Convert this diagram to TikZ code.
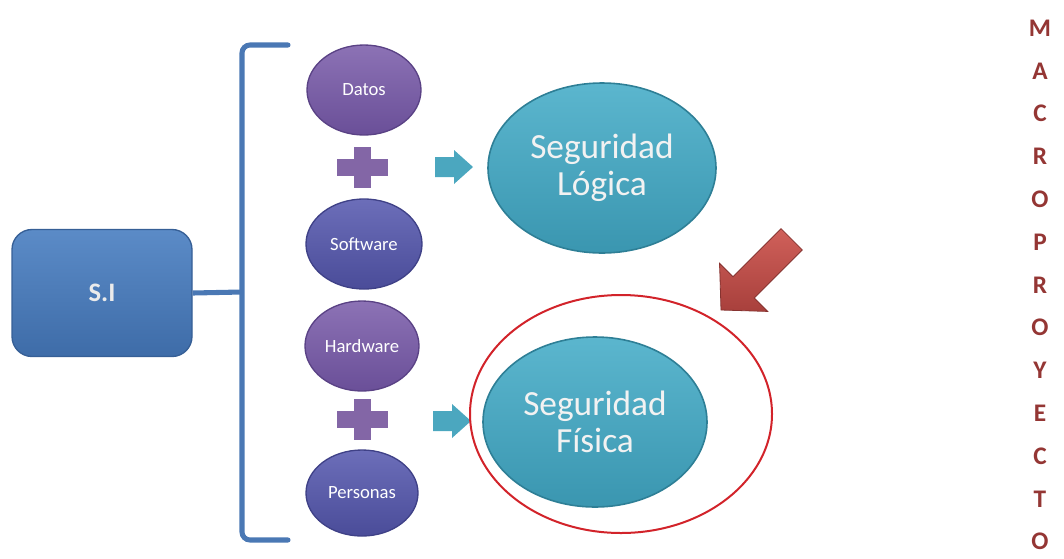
\documentclass[tikz,border=0pt]{standalone}
\usepackage{fontspec}
\setmainfont{Carlito}
\usetikzlibrary{shapes.geometric}

\definecolor{boxtop}{HTML}{5B8BC7}
\definecolor{boxbot}{HTML}{3E6CA8}
\definecolor{boxrim}{HTML}{365F96}
\definecolor{bracecol}{HTML}{4A78B4}
\definecolor{violtop}{HTML}{8C72B5}
\definecolor{violbot}{HTML}{6A4F98}
\definecolor{violrim}{HTML}{5A4285}
\definecolor{indtop}{HTML}{6C6EB9}
\definecolor{indbot}{HTML}{4A4C99}
\definecolor{indrim}{HTML}{3F4187}
\definecolor{tealtop}{HTML}{5BB6CE}
\definecolor{tealbot}{HTML}{3A96B0}
\definecolor{tealrim}{HTML}{2E7F96}
\definecolor{plusfill}{HTML}{8366A6}
\definecolor{arrowteal}{HTML}{4BA7BF}
\definecolor{ringred}{HTML}{D2232A}
\definecolor{arrtop}{HTML}{D0605A}
\definecolor{arrbot}{HTML}{A8403C}
\definecolor{letterred}{HTML}{943634}

\tikzset{
  sibox/.style={rectangle, rounded corners=15pt, draw=boxrim, line width=1pt,
    top color=boxtop, bottom color=boxbot, text=white!92!black,
    font=\bfseries\fontsize{20}{22}\selectfont},
  violet/.style={ellipse, inner sep=0pt, draw=violrim, line width=1pt,
    top color=violtop, bottom color=violbot, text=white,
    font=\fontsize{14}{16}\selectfont},
  indigo/.style={ellipse, inner sep=0pt, draw=indrim, line width=1pt,
    top color=indtop, bottom color=indbot, text=white,
    font=\fontsize{14}{16}\selectfont},
  seguro/.style={ellipse, inner sep=0pt, draw=tealrim, line width=1.2pt,
    top color=tealtop, bottom color=tealbot, text=white!95!black, align=center,
    font=\fontsize{26.5}{27.5}\selectfont},
  ring/.style={ellipse, inner sep=0pt, draw=ringred, line width=1.5pt},
  vletter/.style={text=letterred, font=\bfseries\fontsize{19}{21}\selectfont},
  bracepath/.style={draw=bracecol, line width=3.8pt, rounded corners=6pt},
}

\begin{document}
\begin{tikzpicture}[x=0.75pt,y=-0.75pt]
\useasboundingbox (0,0) rectangle (1064,558);

% main system box
\node[sibox, minimum width={180*0.75pt}, minimum height={127*0.75pt}] (si) at (102,293) {S.I};

% brace grouping the four components
\coordinate (btop) at (288,45);
\coordinate (bbot) at (288,540);
\coordinate (bmid) at (242,292);
\draw[bracepath, line cap=round] (btop) -- (242,45) -- (242,540) -- (bbot);
\draw[draw=bracecol, line width=3.8pt] (si.east) -- (bmid);

% components
\node[violet, minimum width={114*0.75pt}, minimum height={90*0.75pt}] (datos) at (364,90) {Datos};
\node[indigo, minimum width={116*0.75pt}, minimum height={90*0.75pt}] (software) at (364,244) {Software};
\node[violet, minimum width={114*0.75pt}, minimum height={90*0.75pt}] (hardware) at (362,346) {Hardware};
\node[indigo, minimum width={112*0.75pt}, minimum height={86*0.75pt}] (personas) at (362,493) {Personas};

% plus signs
\foreach \cy in {167,419}{
  \fill[plusfill] (336.5,\cy-8.5) rectangle (387.5,\cy+8.5);
  \fill[plusfill] (353.5,\cy-20.5) rectangle (370.5,\cy+20.5);
}

% small block arrows
\foreach \ax/\ay in {454/167, 452/421}{
  \fill[arrowteal] (\ax-19,\ay-10) -- (\ax,\ay-10) -- (\ax,\ay-17) -- (\ax+19,\ay)
    -- (\ax,\ay+17) -- (\ax,\ay+10) -- (\ax-19,\ay+10) -- cycle;
}

% security areas
\node[seguro, minimum width={228*0.75pt}, minimum height={170*0.75pt}] (logica) at (602,168) {Seguridad\\Lógica};
\node[seguro, minimum width={224*0.75pt}, minimum height={170*0.75pt}] (fisica) at (595,422) {Seguridad\\Física};

% highlight ring
\node[ring, minimum width={302*0.75pt}, minimum height={238*0.75pt}] (marco) at (621,414) {};

% pointer arrow
\begin{scope}[shift={(721,310)}, rotate=225]
  \shade[top color=arrtop, bottom color=arrbot, draw=arrbot!80!black, line width=0.6pt]
    (0,0) -- (-32,-34) -- (-32,-15) -- (-100,-15) -- (-100,15) -- (-32,15) -- (-32,34) -- cycle;
\end{scope}

% vertical title
\foreach \ch [count=\i from 0] in {M,A,C,R,O,P,R,O,Y,E,C,T,O}{
  \node[vletter] (l\i) at (1040,{28+42.8*\i}) {\ch};
}
\end{tikzpicture}
\end{document}
